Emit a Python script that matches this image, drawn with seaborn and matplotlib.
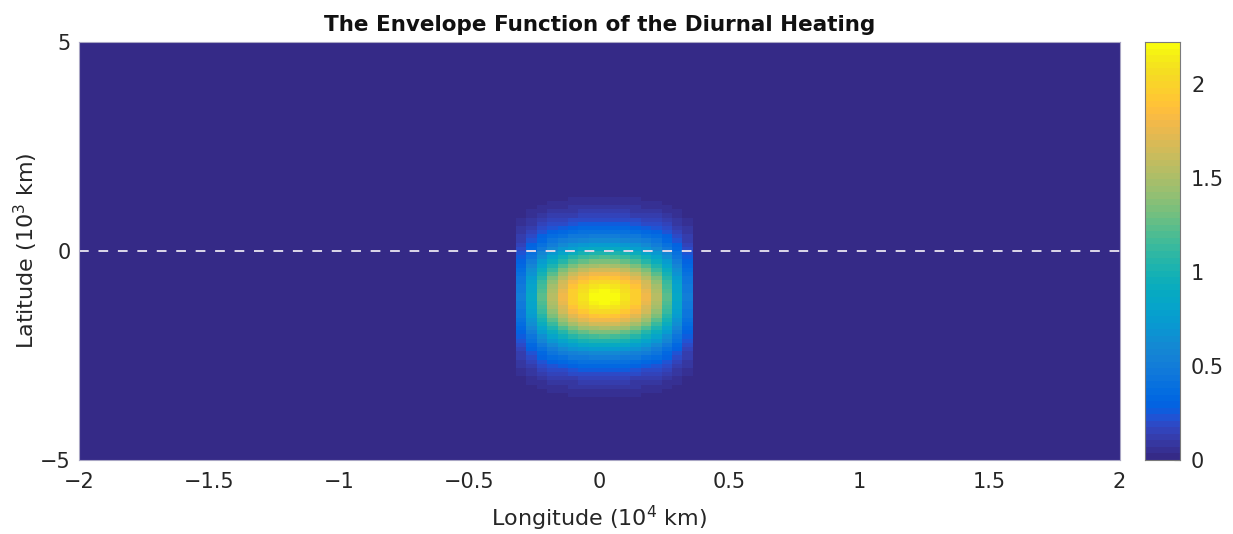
import numpy as np
import pandas as pd
import matplotlib
matplotlib.use("Agg")
import matplotlib.pyplot as plt
from matplotlib.colors import ListedColormap
import seaborn as sns

# Grid: longitude in 10^4 km, latitude in 10^3 km (cell centres)
lon_step = 0.04
lat_step = 0.1
lon_centres = np.round(np.arange(-2 + lon_step / 2, 2, lon_step), 3)
lat_centres = np.round(np.arange(-5 + lat_step / 2, 5, lat_step), 3)

# Peak heating amplitude
peak_value = 2.22

# Zonal envelope (relative), columns centred from -0.30 to 0.34
lon_window = [-0.30, -0.26, -0.22, -0.18, -0.14, -0.10, -0.06, -0.02, 0.02,
              0.06, 0.10, 0.14, 0.18, 0.22, 0.26, 0.30, 0.34]
lon_weight = [0.22, 0.38, 0.55, 0.69, 0.80, 0.89, 0.95, 0.99, 1.00,
              0.99, 0.95, 0.89, 0.80, 0.69, 0.55, 0.38, 0.22]

# Meridional envelope (relative), rows centred from -3.75 to 1.55
lat_window = [-3.75, -3.65, -3.55, -3.45, -3.35, -3.25, -3.15, -3.05, -2.95,
              -2.85, -2.75, -2.65, -2.55, -2.45, -2.35, -2.25, -2.15, -2.05,
              -1.95, -1.85, -1.75, -1.65, -1.55, -1.45, -1.35, -1.25, -1.15,
              -1.05, -0.95, -0.85, -0.75, -0.65, -0.55, -0.45, -0.35, -0.25,
              -0.15, -0.05, 0.05, 0.15, 0.25, 0.35, 0.45, 0.55, 0.65,
              0.75, 0.85, 0.95, 1.05, 1.15, 1.25, 1.35, 1.45, 1.55]
lat_weight = [0.006, 0.009, 0.013, 0.019, 0.027, 0.038, 0.052, 0.069, 0.091,
              0.117, 0.149, 0.186, 0.229, 0.279, 0.335, 0.396, 0.462, 0.532,
              0.604, 0.676, 0.745, 0.810, 0.868, 0.918, 0.957, 0.985, 0.998,
              0.998, 0.985, 0.957, 0.918, 0.868, 0.810, 0.745, 0.676, 0.604,
              0.532, 0.462, 0.396, 0.335, 0.279, 0.229, 0.186, 0.149, 0.117,
              0.091, 0.069, 0.052, 0.038, 0.027, 0.019, 0.013, 0.009, 0.006]

# Colour ramp (parula, 64 levels)
parula_colors = [
    [0.2081, 0.1663, 0.5292], [0.2116, 0.1898, 0.5777], [0.2123, 0.2138, 0.6270],
    [0.2081, 0.2386, 0.6771], [0.1959, 0.2645, 0.7279], [0.1707, 0.2919, 0.7792],
    [0.1253, 0.3242, 0.8303], [0.0591, 0.3598, 0.8683], [0.0117, 0.3875, 0.8820],
    [0.0060, 0.4086, 0.8828], [0.0165, 0.4266, 0.8786], [0.0329, 0.4430, 0.8720],
    [0.0498, 0.4586, 0.8641], [0.0629, 0.4737, 0.8554], [0.0723, 0.4887, 0.8467],
    [0.0779, 0.5040, 0.8384], [0.0793, 0.5200, 0.8312], [0.0749, 0.5375, 0.8263],
    [0.0641, 0.5570, 0.8240], [0.0488, 0.5772, 0.8228], [0.0343, 0.5966, 0.8199],
    [0.0265, 0.6137, 0.8135], [0.0239, 0.6287, 0.8038], [0.0231, 0.6418, 0.7913],
    [0.0228, 0.6535, 0.7768], [0.0267, 0.6642, 0.7607], [0.0384, 0.6743, 0.7436],
    [0.0590, 0.6838, 0.7254], [0.0843, 0.6928, 0.7062], [0.1133, 0.7015, 0.6859],
    [0.1453, 0.7098, 0.6646], [0.1801, 0.7177, 0.6424], [0.2178, 0.7250, 0.6193],
    [0.2586, 0.7317, 0.5954], [0.3022, 0.7376, 0.5712], [0.3482, 0.7424, 0.5473],
    [0.3953, 0.7459, 0.5244], [0.4420, 0.7481, 0.5033], [0.4871, 0.7491, 0.4840],
    [0.5300, 0.7491, 0.4661], [0.5709, 0.7485, 0.4494], [0.6099, 0.7473, 0.4337],
    [0.6473, 0.7456, 0.4188], [0.6834, 0.7435, 0.4044], [0.7184, 0.7411, 0.3905],
    [0.7525, 0.7384, 0.3768], [0.7858, 0.7356, 0.3633], [0.8185, 0.7327, 0.3498],
    [0.8507, 0.7299, 0.3360], [0.8824, 0.7274, 0.3217], [0.9139, 0.7258, 0.3063],
    [0.9450, 0.7261, 0.2886], [0.9739, 0.7314, 0.2666], [0.9938, 0.7455, 0.2403],
    [0.9990, 0.7653, 0.2164], [0.9955, 0.7861, 0.1967], [0.9880, 0.8066, 0.1794],
    [0.9789, 0.8271, 0.1633], [0.9697, 0.8481, 0.1475], [0.9626, 0.8705, 0.1309],
    [0.9589, 0.8949, 0.1132], [0.9598, 0.9218, 0.0948], [0.9661, 0.9514, 0.0755],
    [0.9763, 0.9831, 0.0538],
]
parula = ListedColormap(parula_colors, name="parula")

# Build the separable envelope field
lon_profile = pd.Series(0.0, index=lon_centres)
lon_profile.loc[np.round(lon_window, 3)] = lon_weight
lat_profile = pd.Series(0.0, index=lat_centres)
lat_profile.loc[np.round(lat_window, 3)] = lat_weight

field = pd.DataFrame(peak_value * np.outer(lat_profile.values, lon_profile.values),
                     index=lat_centres, columns=lon_centres)
field = field.iloc[::-1]  # north at the top

sns.set_style("white")
plt.rcParams["font.family"] = ["DejaVu Sans"]
text_color = "#262626"

fig = plt.figure(figsize=(12.33, 5.34), dpi=100)
ax = fig.add_axes([0.064, 0.139, 0.844, 0.782])
cax = fig.add_axes([0.9286, 0.139, 0.0284, 0.782])

sns.heatmap(field, ax=ax, cbar_ax=cax, cmap=parula, vmin=0, vmax=peak_value,
            xticklabels=False, yticklabels=False, rasterized=True)

# Numeric axes on top of the cell grid
x_ticks = [-2, -1.5, -1, -0.5, 0, 0.5, 1, 1.5, 2]
y_ticks = [5, 0, -5]

def lon_pos(v):
    return (v + 2) / lon_step

def lat_pos(v):
    return (5 - v) / lat_step

def fmt(v):
    return f"{v:g}".replace("-", "\u2212")

ax.set_xticks([lon_pos(v) for v in x_ticks])
ax.set_xticklabels([fmt(v) for v in x_ticks], fontsize=15, color=text_color)
ax.set_yticks([lat_pos(v) for v in y_ticks])
ax.set_yticklabels([fmt(v) for v in y_ticks], fontsize=15, color=text_color,
                   rotation=0)
ax.tick_params(axis="x", length=0, pad=9)
ax.tick_params(axis="y", length=0, pad=6)

# Equator
ax.axhline(lat_pos(0), color="#ddd8ea", lw=1.4, linestyle=(0, (5, 5)))

for side in ["left", "right", "top", "bottom"]:
    ax.spines[side].set_visible(True)
    ax.spines[side].set_color("#a9a6c4")
    ax.spines[side].set_linewidth(0.8)

ax.set_xlabel("Longitude (10$^4$ km)", fontsize=16, color=text_color, labelpad=8)
ax.set_ylabel("Latitude (10$^3$ km)", fontsize=16, color=text_color, labelpad=0)
ax.set_title("The Envelope Function of the Diurnal Heating", fontsize=15.5,
             fontweight="bold", color="#111111", pad=8)

# Colour bar
cax.set_yticks([0, 0.5, 1, 1.5, 2])
cax.set_yticklabels(["0", "0.5", "1", "1.5", "2"], fontsize=15, color=text_color)
cax.tick_params(axis="y", direction="in", length=4, width=0.8, color="#404040", pad=8)
for side in ["left", "right", "top", "bottom"]:
    cax.spines[side].set_visible(True)
    cax.spines[side].set_color("#7a7a7a")
    cax.spines[side].set_linewidth(0.8)

fig.savefig("out.png", dpi=100)
